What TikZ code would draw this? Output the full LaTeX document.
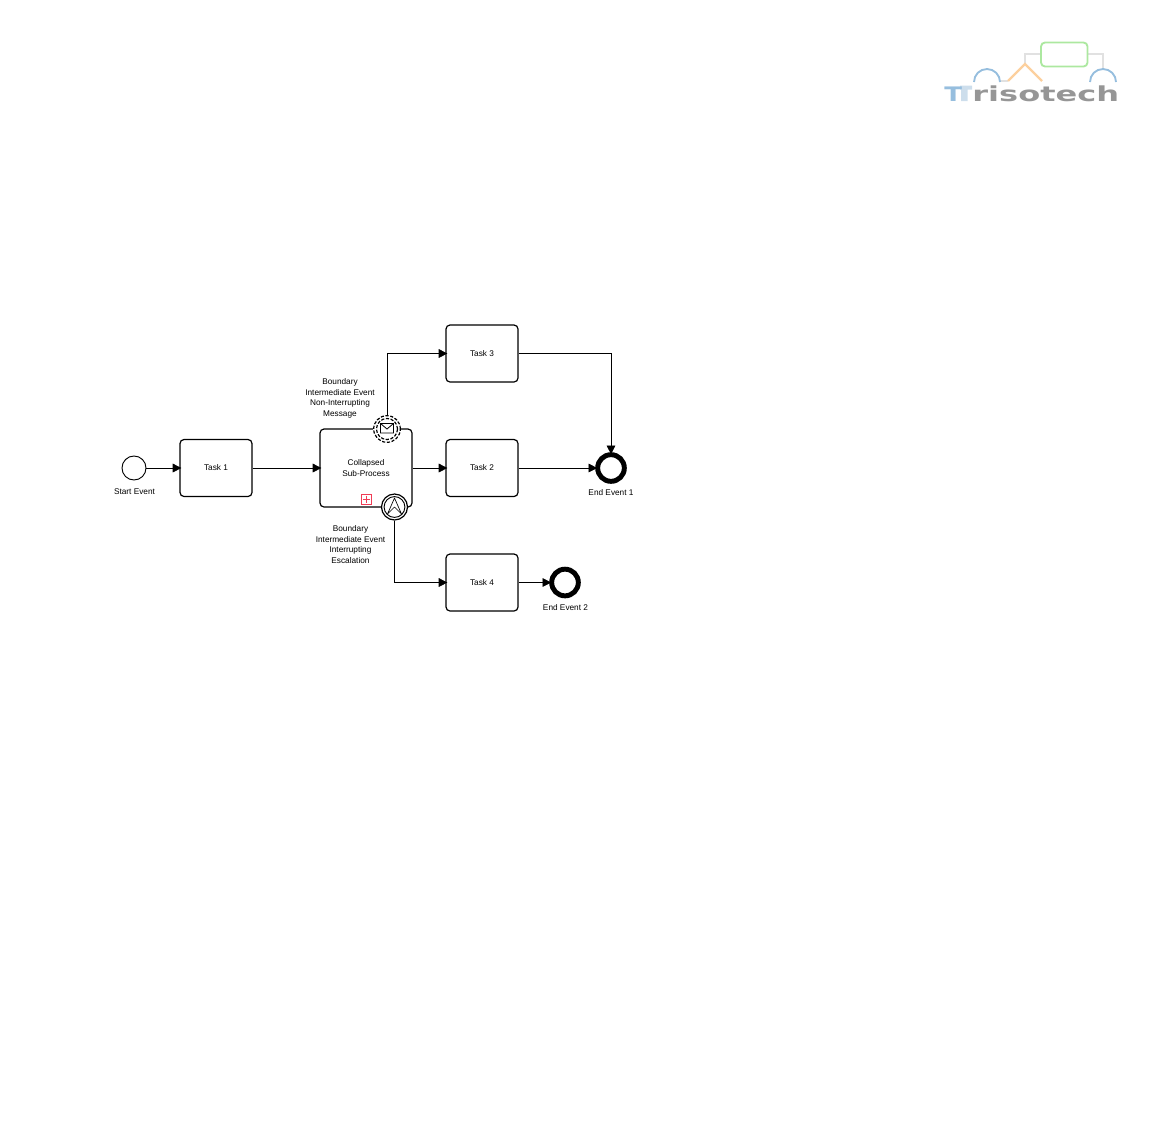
\documentclass[tikz,border=0pt]{standalone}
\usepackage{fontspec}
\setmainfont{Liberation Sans}
\newfontfamily\logofont{DejaVu Sans}
\usetikzlibrary{arrows.meta,positioning}
\definecolor{logoblue}{RGB}{150,190,222}
\definecolor{logolight}{RGB}{205,222,236}
\definecolor{logogray}{RGB}{150,150,150}
\definecolor{logoline}{RGB}{225,225,225}
\definecolor{logoorange}{RGB}{252,208,158}
\definecolor{logogreen}{RGB}{172,232,160}
\definecolor{markred}{RGB}{240,60,85}
\tikzset{
  x=0.75pt,y=-0.75pt,
  task/.style={draw,line width=0.9pt,rounded corners=3pt,minimum width=54pt,minimum height=42.75pt,inner sep=0pt,font=\fontsize{6.2}{7.85}\selectfont,align=center,fill=white},
  subproc/.style={task,minimum width=69pt,minimum height=58.5pt},
  evt/.style={draw,circle,inner sep=0pt,fill=white},
  startevt/.style={evt,minimum size=18pt,line width=0.7pt},
  endevt/.style={evt,minimum size=20pt,line width=3.7pt},
  bnd/.style={evt,minimum size=19.5pt,line width=0.9pt},
  lbl/.style={font=\fontsize{6.2}{7.85}\selectfont,align=center,inner sep=0pt},
  flow/.style={draw,line width=0.5pt,shorten >=-1.5pt,-{Triangle[length=6.5pt,width=6.5pt]}},
}
\begin{document}
\begin{tikzpicture}
\useasboundingbox (0,0) rectangle (1151,1125);
% diagram
\node[startevt] (start) at (134,468) {};
\node[task] (t1) at (216,468) {Task 1};
\node[subproc] (sub) at (366,468) {Collapsed\\Sub-Process};
\node[task] (t2) at (482,468) {Task 2};
\node[task] (t3) at (482,353.5) {Task 3};
\node[task] (t4) at (482,582.5) {Task 4};
\node[endevt] (e1) at (611,468) {};
\node[endevt] (e2) at (565,582.5) {};
\node[bnd,draw=none] (msg) at (387,429) {};
\fill[white] (msg.center) circle (10.5pt);
\draw[line width=0.9pt,dash pattern=on 2.4pt off 1.2pt] (msg.center) circle (10pt);
\draw[line width=0.9pt,dash pattern=on 2.4pt off 1.2pt] (msg.center) circle (7.9pt);
\node[bnd] (esc) at (394.5,507) {};
\draw[line width=0.7pt] (esc.center) circle (7.8pt);
% icons
\draw[line width=0.6pt] (380.5,423.5) rectangle (393.5,433) (380.5,423.5) -- (387,429) -- (393.5,423.5);
\draw[line width=0.5pt,join=round] (394.5,498) -- (401.5,514) -- (394.5,507) -- (387.5,514) -- cycle;
\node[draw=markred,fill=white,line width=0.7pt,minimum size=7.5pt,inner sep=0pt] (mk) at (366,499) {};
\draw[markred,line width=0.6pt] (366,495.5) -- (366,502.5) (362.5,499) -- (369.5,499);
% flows
\draw[flow] (start) -- (t1);
\draw[flow] (t1) -- (sub);
\draw[flow] (sub) -- (t2);
\draw[flow] (t2) -- (e1);
\draw[flow] (t3) -| (e1);
\draw[flow] (t4) -- (e2);
\draw[flow] (msg) |- (t3);
\draw[flow] (esc) |- (t4);
% labels
\node[lbl] (l0) at (134.5,491.5) {Start Event};
\node[lbl] (l1) at (611,492.5) {End Event 1};
\node[lbl] (l2) at (565.5,607.5) {End Event 2};
\node[lbl] (l3) at (340,398.5) {Boundary\\Intermediate Event\\Non-Interrupting\\Message};
\node[lbl] (l4) at (350.5,544.5) {Boundary\\Intermediate Event\\Interrupting\\Escalation};
% logo
\draw[logoline,line width=1.4pt] (1041,54) -- (1025,54) -- (1025,64) (1088,54) -- (1103,54) -- (1103,68) (1000,81) -- (1008,81);
\draw[logogreen,line width=1.4pt,rounded corners=3pt] (1041,42.5) rectangle (1087.5,66.5);
\draw[logoorange,line width=1.7pt] (1008,81) -- (1025,64) -- (1042,81);
\draw[logoblue,line width=1.4pt] (974,82) arc[start angle=180,end angle=0,radius=9.75pt];
\draw[logoblue,line width=1.4pt] (1090,82) arc[start angle=180,end angle=0,radius=9.75pt];
\fill[logolight] (960,85.5) rectangle (972,89.5) (961,85.5) rectangle (967.5,101);
\node[inner sep=0pt,anchor=base west,text=logogray,font=\logofont\bfseries\fontsize{15.5}{15}\selectfont,xscale=1.55] (lr) at (972,101) {risotech};
\node[inner sep=0pt,anchor=base west,text=logoblue,font=\logofont\bfseries\fontsize{15}{15}\selectfont,xscale=1.3] (lt) at (944,101) {T};
\end{tikzpicture}
\end{document}
